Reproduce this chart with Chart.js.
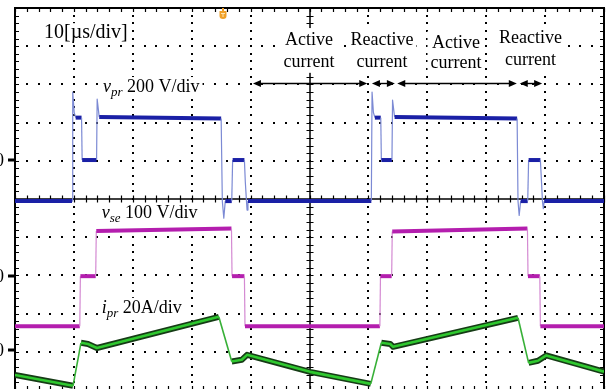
<!DOCTYPE html>
<html>
<head>
<meta charset="utf-8">
<title>Scope capture</title>
<script src="https://cdn.jsdelivr.net/npm/chart.js@4.4.1/dist/chart.umd.min.js"></script>
<style>
  html, body { margin: 0; padding: 0; background: #fff; overflow: hidden; }
  #wrap { width: 612px; height: 392px; }
</style>
</head>
<body>
<div id="wrap"><canvas id="scope" width="612" height="392"></canvas></div>
<script>
// time in microseconds (10 us/div, 10 divisions on screen)

// v_pr, volts (200 V/div)
var tPr = [0, 9.68, 9.8, 10.05, 10.3, 11.3, 11.4, 13.85, 13.95, 14.3, 35.0, 35.2, 35.45, 35.7,
  36.8, 36.95, 38.95, 39.1, 39.3, 39.4, 39.55,
  60.5, 60.62, 60.85, 61.1, 62.1, 62.2, 64.0, 64.1, 64.45, 85.25, 85.4, 85.6, 85.85,
  87.05, 87.2, 89.2, 89.4, 89.55, 89.7, 89.85, 100];
var vPr = [-215, -215, 356, 250, 222, 222, 0, 0, 319, 225, 218, -215, -304, -215,
  -215, 0, 0, -114, -215, -262, -215,
  -215, 356, 250, 222, 222, 0, 0, 314, 225, 218, -215, -290, -215,
  -215, 0, 0, -120, -215, -255, -215, -215];

// v_se, volts (100 V/div)
var tSe = [0, 11.0, 11.1, 13.7, 13.8, 36.75, 36.85, 38.95, 39.05,
  61.95, 62.05, 63.95, 64.05, 87.0, 87.1, 89.1, 89.2, 100];
var vSe = [-131, -131, 0, 0, 118, 125, 0, 0, -131,
  -131, 0, 0, 117, 125, 0, 0, -131, -131];

// i_pr, amps (20 A/div)
var tIpr = [0, 9.85, 11.2, 12.4, 13.9, 34.6, 36.8, 38.5, 39.4, 50.1,
  60.4, 62.2, 63.7, 64.2, 85.4, 87.2, 88.8, 90.2, 100];
var iPr = [-13.1, -18.8, 3.7, 3.1, 1.0, 17.3, -6.1, -5.2, -2.6, -11.5,
  -17.8, 3.7, 3.1, 1.6, 16.8, -6.8, -5.7, -2.9, -11.4];

// active / reactive intervals marked above the traces (us)
var spans = [[40.4, 59.8], [60.6, 64.5], [64.9, 85.2], [85.7, 89.5]];

// per-division setting and ground marker offset (divisions from centre)
var channels = {
  yPr: { perDiv: 200, zero: 1.02 },
  ySe: { perDiv: 100, zero: -2.02 },
  yI: { perDiv: 20, zero: -3.95 }
};

var SERIF = '"Liberation Serif", "Times New Roman", serif';

function pts(ts, vs) {
  return ts.map(function (t, i) { return { x: t, y: vs[i] }; });
}

function chScale(id) {
  var c = channels[id];
  return { type: 'linear', display: false, min: (-5 - c.zero) * c.perDiv, max: (5 - c.zero) * c.perDiv };
}

function steep(ctx) {
  return Math.abs(ctx.p1.y - ctx.p0.y) > 3 * Math.abs(ctx.p1.x - ctx.p0.x);
}

function traceStyle(flatColor, flatWidth, edgeColor, edgeWidth) {
  return {
    borderColor: function (ctx) { return steep(ctx) ? edgeColor : flatColor; },
    borderWidth: function (ctx) { return steep(ctx) ? edgeWidth : flatWidth; }
  };
}

var graticule = {
  id: 'graticule',
  beforeDatasetsDraw: function (chart) {
    var ctx = chart.ctx, a = chart.chartArea;
    var xs = chart.scales.x, ys = chart.scales.y;
    var k, gx, gy;
    ctx.save();
    ctx.fillStyle = '#000';
    // dotted division lines, five dots per division
    for (var i = 1; i < 10; i++) {
      if (i === 5) continue;
      gx = Math.round(xs.getPixelForValue(i * 10));
      for (k = 0; k <= 50; k++) {
        gy = Math.round(ys.getPixelForValue(-5 + k * 0.2));
        ctx.fillRect(gx - 1, gy - 1, 2, 2);
      }
    }
    for (var j = -4; j <= 4; j++) {
      if (j === 0) continue;
      gy = Math.round(ys.getPixelForValue(j));
      for (k = 0; k <= 50; k++) {
        gx = Math.round(xs.getPixelForValue(k * 2));
        ctx.fillRect(gx - 1, gy - 1, 2, 2);
      }
    }
    // centre axes with minor ticks
    var cx = Math.round(xs.getPixelForValue(50)), cy = Math.round(ys.getPixelForValue(0));
    ctx.strokeStyle = '#000';
    ctx.lineWidth = 1.5;
    ctx.beginPath();
    ctx.moveTo(cx, a.top); ctx.lineTo(cx, a.bottom);
    ctx.moveTo(a.left, cy); ctx.lineTo(a.right, cy);
    ctx.stroke();
    ctx.lineWidth = 1.2;
    ctx.beginPath();
    for (k = 0; k <= 50; k++) {
      gy = Math.round(ys.getPixelForValue(-5 + k * 0.2)) + 0.5;
      ctx.moveTo(cx - 3.5, gy); ctx.lineTo(cx + 3.5, gy);
      gx = Math.round(xs.getPixelForValue(k * 2)) + 0.5;
      ctx.moveTo(gx, cy - 3.5); ctx.lineTo(gx, cy + 3.5);
      // border ticks, pointing inwards
      ctx.moveTo(a.left, gy); ctx.lineTo(a.left + 4, gy);
      ctx.moveTo(a.right, gy); ctx.lineTo(a.right - 4, gy);
      ctx.moveTo(gx, a.top); ctx.lineTo(gx, a.top + 4);
      ctx.moveTo(gx, a.bottom); ctx.lineTo(gx, a.bottom - 4);
    }
    ctx.stroke();
    ctx.lineWidth = 2;
    ctx.strokeRect(a.left, a.top, a.right - a.left, a.bottom - a.top);
    ctx.restore();
  }
};

function drawRuns(ctx, runs, x, y) {
  runs.forEach(function (r) {
    ctx.font = r.font;
    ctx.fillText(r.text, x, y + (r.dy || 0));
    x += ctx.measureText(r.text).width;
  });
  return x;
}

function runsWidth(ctx, runs) {
  var w = 0;
  runs.forEach(function (r) { ctx.font = r.font; w += ctx.measureText(r.text).width; });
  return w;
}

function chLabel(sym, sub, rest) {
  return [
    { text: sym, font: 'italic 18px ' + SERIF },
    { text: sub, font: 'italic 13px ' + SERIF, dy: 4 },
    { text: rest, font: '18px ' + SERIF }
  ];
}

// labels: position in (us, div), text runs
var notes = [
  { t: 4.92, d: 4.21, runs: [{ text: '10[µs/div]', font: '20px ' + SERIF }] },
  { t: 14.94, d: 2.80, runs: chLabel('v', 'pr', ' 200 V/div') },
  { t: 14.72, d: -0.50, runs: chLabel('v', 'se', ' 100 V/div') },
  { t: 14.72, d: -2.98, runs: chLabel('i', 'pr', ' 20A/div') }
];

var phaseNotes = [
  { t: 49.92, d1: 4.03, d2: 3.46, a: 'Active', b: 'current' },
  { t: 62.31, d1: 4.03, d2: 3.46, a: 'Reactive', b: 'current' },
  { t: 74.87, d1: 3.95, d2: 3.42, a: 'Active', b: 'current' },
  { t: 87.52, d1: 4.08, d2: 3.51, a: 'Reactive', b: 'current' }
];

function arrowHead(ctx, x, y, dir) {
  ctx.beginPath();
  ctx.moveTo(x, y);
  ctx.lineTo(x - dir * 8, y - 3.5);
  ctx.lineTo(x - dir * 8, y + 3.5);
  ctx.closePath();
  ctx.fill();
}

var annotations = {
  id: 'annotations',
  afterDatasetsDraw: function (chart) {
    var ctx = chart.ctx;
    var xs = chart.scales.x, ys = chart.scales.y;
    ctx.save();
    ctx.textBaseline = 'alphabetic';

    notes.forEach(function (n) {
      var x = xs.getPixelForValue(n.t), y = ys.getPixelForValue(n.d);
      var w = runsWidth(ctx, n.runs);
      ctx.fillStyle = '#fff';
      ctx.fillRect(x - 3, y - 15, w + 6, 21);
      ctx.fillStyle = '#000';
      drawRuns(ctx, n.runs, x, y);
    });

    ctx.font = '18px ' + SERIF;
    ctx.textAlign = 'center';
    phaseNotes.forEach(function (p) {
      var x = xs.getPixelForValue(p.t);
      var y1 = ys.getPixelForValue(p.d1), y2 = ys.getPixelForValue(p.d2);
      var w = Math.max(ctx.measureText(p.a).width, ctx.measureText(p.b).width);
      ctx.fillStyle = '#fff';
      ctx.fillRect(x - w / 2 - 3, y1 - 17, w + 6, y2 - y1 + 23);
      ctx.fillStyle = '#000';
      ctx.fillText(p.a, x, y1);
      ctx.fillText(p.b, x, y2);
    });

    // interval arrows
    var ay = Math.round(ys.getPixelForValue(3.04)) + 0.5;
    ctx.strokeStyle = '#000';
    ctx.fillStyle = '#000';
    ctx.lineWidth = 1.4;
    spans.forEach(function (s) {
      var x0 = xs.getPixelForValue(s[0]), x1 = xs.getPixelForValue(s[1]);
      ctx.beginPath();
      ctx.moveTo(x0 + 4, ay); ctx.lineTo(x1 - 4, ay);
      ctx.stroke();
      arrowHead(ctx, x0, ay, -1);
      arrowHead(ctx, x1, ay, 1);
    });

    // ground markers
    ctx.textAlign = 'right';
    ctx.textBaseline = 'middle';
    ctx.font = '18px ' + SERIF;
    ['yPr', 'ySe', 'yI'].forEach(function (id) {
      var gy = Math.round(chart.scales[id].getPixelForValue(0));
      ctx.fillStyle = '#000';
      ctx.fillText('0', 4, gy + 1);
      ctx.fillRect(8, gy - 1.5, 7, 3);
    });

    // trigger position marker
    var tx = Math.round(xs.getPixelForValue(35.3));
    ctx.fillStyle = '#f0a028';
    ctx.fillRect(tx - 1, 8, 2, 4);
    ctx.beginPath();
    ctx.moveTo(tx - 3.5, 11);
    ctx.lineTo(tx + 3.5, 11);
    ctx.lineTo(tx + 3.5, 16);
    ctx.quadraticCurveTo(tx + 3.5, 19, tx, 19);
    ctx.quadraticCurveTo(tx - 3.5, 19, tx - 3.5, 16);
    ctx.closePath();
    ctx.fill();
    ctx.fillStyle = '#fde3b0';
    ctx.fillRect(tx - 2, 13, 4, 1);
    ctx.fillRect(tx - 0.5, 13, 1, 4);
    ctx.restore();
  }
};

// Chart.js paints the first dataset last, so the top trace comes first
new Chart(document.getElementById('scope').getContext('2d'), {
  type: 'line',
  data: {
    datasets: [
      {
        label: 'v_pr',
        data: pts(tPr, vPr),
        yAxisID: 'yPr',
        pointRadius: 0,
        borderJoinStyle: 'round',
        segment: traceStyle('#1a20a6', 4, '#7c8ad4', 1.2)
      },
      {
        label: 'v_se',
        data: pts(tSe, vSe),
        yAxisID: 'ySe',
        pointRadius: 0,
        borderJoinStyle: 'round',
        segment: traceStyle('#b41eae', 4, '#d48ad2', 1.2)
      },
      {
        label: 'i_pr',
        data: pts(tIpr, iPr),
        yAxisID: 'yI',
        pointRadius: 0,
        borderJoinStyle: 'round',
        segment: traceStyle('#2fc82f', 2.6, '#37b037', 1.6)
      },
      {
        label: 'i_pr edge',
        data: pts(tIpr, iPr),
        yAxisID: 'yI',
        pointRadius: 0,
        borderJoinStyle: 'round',
        segment: traceStyle('#163c16', 6, 'rgba(0,0,0,0)', 0)
      }
    ]
  },
  options: {
    responsive: false,
    animation: false,
    events: [],
    parsing: false,
    layout: { padding: { left: 15, right: 8, top: 8, bottom: 2 } },
    plugins: { legend: { display: false }, tooltip: { enabled: false } },
    scales: {
      x: { type: 'linear', display: false, min: 0, max: 100 },
      y: { type: 'linear', display: false, min: -5, max: 5 },
      yPr: chScale('yPr'),
      ySe: chScale('ySe'),
      yI: chScale('yI')
    }
  },
  plugins: [graticule, annotations]
});
</script>
</body>
</html>
